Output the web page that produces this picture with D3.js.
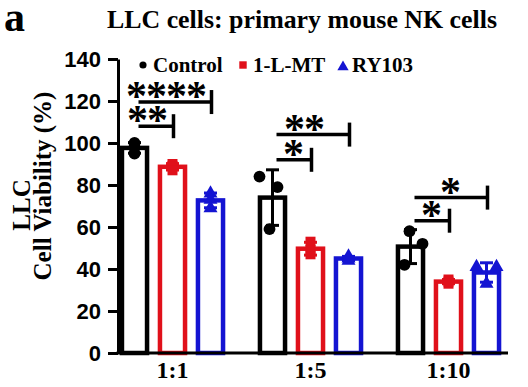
<!DOCTYPE html>
<html>
<head>
<meta charset="utf-8">
<script src="https://cdn.jsdelivr.net/npm/d3@7"></script>
<style>
  html, body { margin: 0; padding: 0; background: #fff; }
  svg { display: block; }
</style>
</head>
<body>
<svg id="chart" width="528" height="387"></svg>
<script>
// ---------------- DATA ----------------
const groups = ["1:1", "1:5", "1:10"];
const series = ["Control", "1-L-MT", "RY103"];
// individual replicate values (Cell Viability %), per group
const controlValues = [[100, 98, 95], [84, 79, 59], [58, 52, 42]];
const lmtValues     = [[90, 89, 87], [53, 49, 47], [35, 34, 33]];
const ry103Values   = [[76, 73, 69], [46, 45, 44], [41, 41, 33]];
const yTicks = [0, 20, 40, 60, 80, 100, 120, 140];
// significance brackets: group, compared series, bracket level (% units), label
const sigGroups = ["1:1", "1:1", "1:5", "1:5", "1:10", "1:10"];
const sigTargets = ["RY103", "1-L-MT", "RY103", "1-L-MT", "RY103", "1-L-MT"];
const sigLevels = [119.5, 108, 104, 92, 74, 63];
const sigLabels = ["****", "**", "**", "*", "*", "*"];

// ---------------- LAYOUT / STYLE ----------------
const colors = { "Control": "#000000", "1-L-MT": "#e0101a", "RY103": "#1414d2" };
const valuesBySeries = { "Control": controlValues, "1-L-MT": lmtValues, "RY103": ry103Values };
const jitterPx = {
  "Control": [[0, 0, 0], [-13, 5, -3], [-1, 12, -6]],
  "1-L-MT": [[0, 0, 0], [0, 0, 0], [0, 0, 0]],
  "RY103": [[0, 0, 0], [0, 0, 0], [-10, 10, 0]]
};

const svg = d3.select("#chart");
const axisX = 118, plotRight = 508;
const y = d3.scaleLinear().domain([0, 140]).range([353, 59]);
const x0 = d3.scaleBand().domain(groups).range([103.5, 517.5]).paddingInner(0).paddingOuter(0);
const x1 = d3.scaleBand().domain(series)
  .range([x0.bandwidth() / 2 - 57, x0.bandwidth() / 2 + 57])
  .paddingInner(0.34).paddingOuter(0.17);

const serif = "'Liberation Serif', 'Times New Roman', serif";
const sans = "'Liberation Sans', Arial, sans-serif";

// panel letter and title
svg.append("text").attr("x", 4).attr("y", 31)
  .attr("font-family", serif).attr("font-weight", "bold").attr("font-size", 42)
  .text("a");
svg.append("text").attr("x", 107).attr("y", 28)
  .attr("font-family", serif).attr("font-weight", "bold").attr("font-size", 25)
  .attr("textLength", 390).attr("lengthAdjust", "spacingAndGlyphs")
  .text("LLC cells: primary mouse NK cells");

// y axis label
svg.append("text")
  .attr("transform", "translate(30,205) rotate(-90)")
  .attr("text-anchor", "middle")
  .attr("font-family", serif).attr("font-weight", "bold").attr("font-size", 25)
  .text("LLC");
svg.append("text")
  .attr("transform", "translate(51,186) rotate(-90)")
  .attr("text-anchor", "middle")
  .attr("font-family", serif).attr("font-weight", "bold").attr("font-size", 25)
  .text("Cell Viability (%)");

// bars
const stats = [];
series.forEach(s => {
  groups.forEach((g, gi) => {
    const vals = valuesBySeries[s][gi];
    stats.push({ s, g, gi, vals, mean: d3.mean(vals), sd: d3.deviation(vals) });
  });
});
const cx = d => x0(d.g) + x1(d.s) + x1.bandwidth() / 2;

svg.append("g").selectAll("rect").data(stats).join("rect")
  .attr("x", d => x0(d.g) + x1(d.s))
  .attr("y", d => y(d.mean))
  .attr("width", x1.bandwidth())
  .attr("height", d => y(0) - y(d.mean))
  .attr("fill", "#fff")
  .attr("stroke", d => colors[d.s])
  .attr("stroke-width", 4.5);

// error bars
const eb = svg.append("g");
eb.selectAll("line.v").data(stats).join("line").attr("class", "v")
  .attr("x1", cx).attr("x2", cx)
  .attr("y1", d => y(d.mean - d.sd)).attr("y2", d => y(d.mean + d.sd))
  .attr("stroke", d => colors[d.s]).attr("stroke-width", 3);
["top", "bot"].forEach(k => {
  eb.selectAll("line.c" + k).data(stats).join("line").attr("class", "c" + k)
    .attr("x1", d => cx(d) - 6.5).attr("x2", d => cx(d) + 6.5)
    .attr("y1", d => y(k === "top" ? d.mean + d.sd : d.mean - d.sd))
    .attr("y2", d => y(k === "top" ? d.mean + d.sd : d.mean - d.sd))
    .attr("stroke", d => colors[d.s]).attr("stroke-width", 3);
});

// points
const pts = [];
stats.forEach(d => d.vals.forEach((v, i) => pts.push({ s: d.s, g: d.g, gi: d.gi, v, i, base: cx(d) })));
const symType = { "Control": d3.symbolCircle, "1-L-MT": d3.symbolSquare, "RY103": d3.symbolTriangle };
const symSize = { "Control": 110, "1-L-MT": 100, "RY103": 85 };
svg.append("g").selectAll("path").data(pts).join("path")
  .attr("transform", d => `translate(${d.base + jitterPx[d.s][d.gi][d.i]},${y(d.v)})`)
  .attr("d", d => d3.symbol().type(symType[d.s]).size(symSize[d.s])())
  .attr("fill", d => colors[d.s]);

// y axis
const yAxis = svg.append("g").attr("transform", `translate(${axisX},0)`)
  .call(d3.axisLeft(y).tickValues(yTicks).tickSize(10).tickSizeOuter(0).tickPadding(5));
yAxis.select(".domain").attr("stroke", "#000").attr("stroke-width", 3);
yAxis.selectAll(".tick line").attr("stroke", "#000").attr("stroke-width", 3);
yAxis.selectAll(".tick text")
  .attr("font-family", sans).attr("font-weight", "bold").attr("font-size", 22)
  .attr("fill", "#000").attr("x", -17);

// x axis
svg.append("line").attr("x1", axisX - 1.5).attr("x2", plotRight).attr("y1", y(0)).attr("y2", y(0))
  .attr("stroke", "#000").attr("stroke-width", 3);
const xAxis = svg.append("g").attr("transform", `translate(0,${y(0)})`)
  .call(d3.axisBottom(x0).tickSize(0).tickPadding(8));
xAxis.select(".domain").remove();
xAxis.selectAll(".tick text")
  .attr("font-family", serif).attr("font-weight", "bold").attr("font-size", 24)
  .attr("fill", "#000").attr("dy", "0.71em").attr("transform", d => `translate(${x1("1-L-MT") + x1.bandwidth()/2 - x0.bandwidth()/2},0)`);

// legend
const legendX = [143, 243, 343];
const lg = svg.append("g");
series.forEach((s, i) => {
  lg.append("path")
    .attr("transform", `translate(${legendX[i]},${i === 2 ? 67 : 65})`)
    .attr("d", d3.symbol().type(symType[s]).size(i === 0 ? 40 : 55)())
    .attr("fill", colors[s]);
  lg.append("text").attr("x", legendX[i] + (i === 2 ? 9 : 10)).attr("y", 72)
    .attr("font-family", serif).attr("font-weight", "bold").attr("font-size", 21)
    .text(s);
});

// significance brackets
const sg = svg.append("g");
sigLabels.forEach((lab, i) => {
  const g = sigGroups[i];
  const xs = x0(g) + x1("Control") + x1.bandwidth() / 2 + 4;
  const xe = x0(g) + x1(sigTargets[i]) + x1.bandwidth() / 2 + 1;
  const yy = y(sigLevels[i]);
  sg.append("line").attr("x1", xs).attr("x2", xe).attr("y1", yy).attr("y2", yy)
    .attr("stroke", "#000").attr("stroke-width", 3.5);
  sg.append("line").attr("x1", xe).attr("x2", xe).attr("y1", yy - 12).attr("y2", yy + 12)
    .attr("stroke", "#000").attr("stroke-width", 3.5);
  sg.append("text").attr("x", (xs + xe) / 2 - (lab.length > 1 ? 9 : 1)).attr("y", yy + 8)
    .attr("text-anchor", "middle")
    .attr("font-family", serif).attr("font-weight", "bold").attr("font-size", 42)
    .attr("letter-spacing", -1)
    .text(lab);
});
</script>
</body>
</html>
